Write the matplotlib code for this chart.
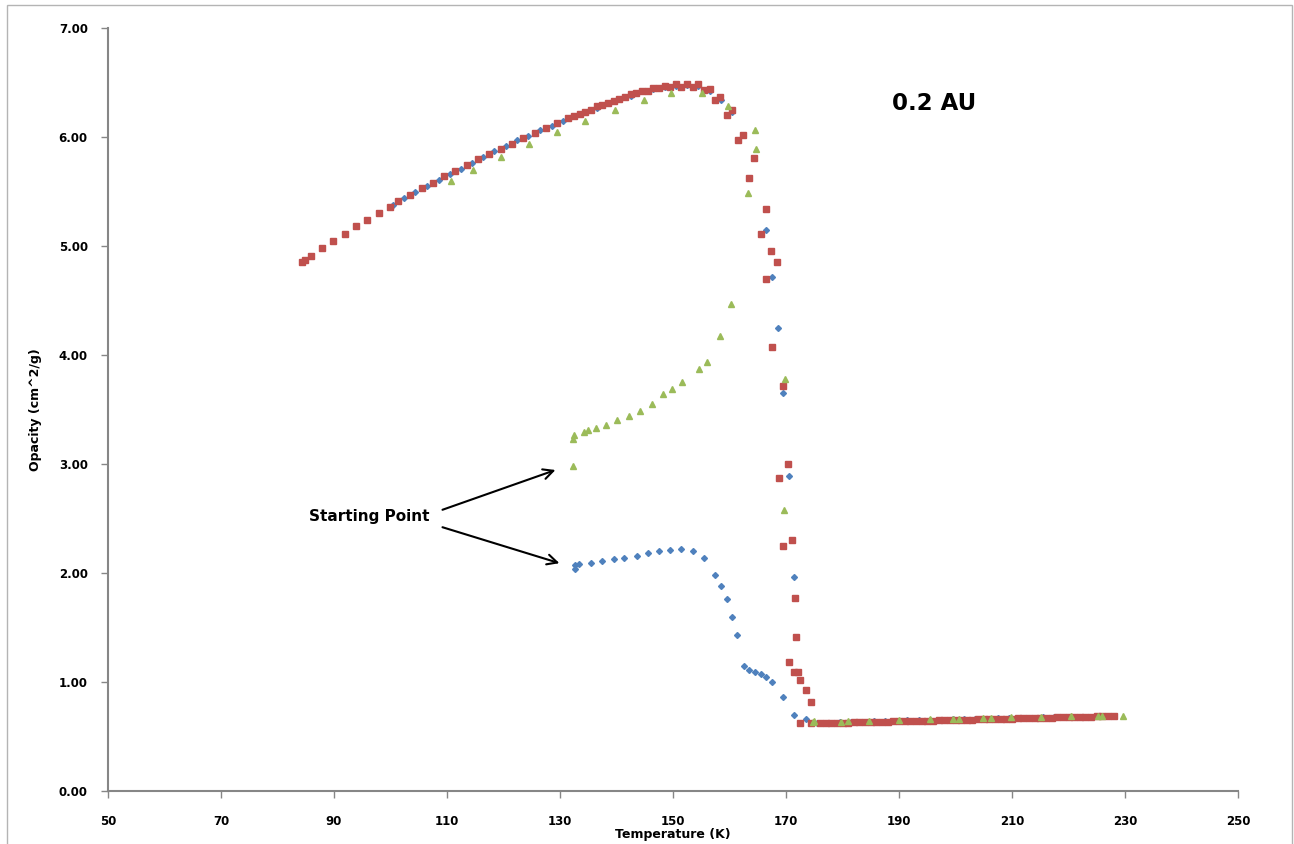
import numpy as np
import matplotlib
matplotlib.use('Agg')
import matplotlib.pyplot as plt
from matplotlib.patches import Rectangle

# Excel-style colours
BLUE = '#4F81BD'
RED = '#C0504D'
GREEN = '#9BBB59'

# ---- data ----
blueT = [100.4, 102.4, 104.4, 106.5, 108.5, 110.5, 112.4, 114.4, 116.4, 118.4,
         120.4, 122.4, 124.4, 126.5, 128.5, 130.5,
         132.5, 134.5, 136.5, 138.5, 140.5, 142.5, 144.5, 146.5, 148.5, 150.5,
         152.5, 154.5, 156.5, 158.5, 160.4,
         166.5, 167.5, 168.5, 169.5, 170.5, 171.5,
         132.7, 132.7, 133.4, 135.4, 137.5, 139.5, 141.4, 143.6, 145.5, 147.5,
         149.5, 151.5, 153.5, 155.5, 157.5, 158.5, 159.5, 160.5, 161.4, 162.5,
         163.5, 164.5, 165.5, 166.5, 167.5, 169.5, 171.5, 173.5,
         175.5, 177.5, 179.5, 181.5, 183.5, 185.5, 187.5, 189.5, 191.5, 193.5,
         195.5, 197.5, 199.5, 201.5, 203.5, 205.5, 207.5, 209.5, 211.5, 213.5,
         215.5, 217.5, 219.5, 221.5, 223.5, 225.5, 227.5]
blueK = [5.38, 5.44, 5.50, 5.55, 5.61, 5.66, 5.71, 5.76, 5.82, 5.87,
         5.92, 5.97, 6.01, 6.06, 6.10, 6.15,
         6.19, 6.23, 6.27, 6.31, 6.35, 6.38, 6.42, 6.44, 6.46, 6.47,
         6.48, 6.47, 6.42, 6.34, 6.23,
         5.15, 4.72, 4.25, 3.65, 2.89, 1.96,
         2.07, 2.04, 2.08, 2.09, 2.11, 2.13, 2.14, 2.16, 2.18, 2.20,
         2.21, 2.22, 2.20, 2.14, 1.98, 1.88, 1.76, 1.60, 1.43, 1.15,
         1.11, 1.09, 1.07, 1.05, 1.00, 0.86, 0.70, 0.66,
         0.62, 0.62, 0.63, 0.63, 0.63, 0.64, 0.64, 0.64, 0.65, 0.65,
         0.65, 0.65, 0.66, 0.66, 0.66, 0.66, 0.67, 0.67, 0.67, 0.67,
         0.68, 0.68, 0.68, 0.68, 0.68, 0.69, 0.69]

redT = [84.4, 84.9, 85.9, 87.9, 89.9, 91.9, 93.9, 95.9, 97.9, 99.9,
        101.4, 103.4, 105.5, 107.5, 109.5, 111.5, 113.5, 115.4, 117.4, 119.5,
        121.5, 123.4, 125.5, 127.5, 129.5, 131.5,
        132.5, 133.5, 134.5, 135.5, 136.5, 137.5, 138.5, 139.5, 140.5, 141.5,
        142.5, 143.5, 144.5, 145.5, 146.5, 147.5, 148.5, 149.5, 150.5, 151.5,
        152.5, 153.5, 154.5, 155.5, 156.5,
        157.5, 158.4, 159.5, 160.4, 161.5, 162.4, 163.5, 164.4, 165.5, 166.5,
        166.5, 167.4, 167.5, 168.4, 168.8, 169.4, 169.5, 170.4, 170.5, 171.1,
        171.6, 171.5, 171.8, 172.1, 172.5, 172.5, 173.5, 174.5, 174.4,
        176, 177, 178, 179, 180, 181, 182, 183, 184, 185,
        186, 187, 188, 189, 190, 191, 192, 193, 194, 195,
        196, 197, 198, 199, 200, 201, 202, 203, 204, 205,
        206, 207, 208, 209, 210, 211, 212, 213, 214, 215,
        216, 217, 218, 219, 220, 221, 222, 223, 224, 225,
        226, 227, 228]
redK = [4.85, 4.87, 4.91, 4.98, 5.05, 5.11, 5.18, 5.24, 5.30, 5.36,
        5.41, 5.47, 5.53, 5.58, 5.64, 5.69, 5.74, 5.80, 5.84, 5.89,
        5.94, 5.99, 6.04, 6.08, 6.13, 6.17,
        6.19, 6.21, 6.23, 6.25, 6.28, 6.29, 6.31, 6.33, 6.35, 6.37,
        6.39, 6.40, 6.42, 6.42, 6.45, 6.45, 6.47, 6.46, 6.49, 6.46,
        6.49, 6.46, 6.49, 6.43, 6.44,
        6.34, 6.37, 6.20, 6.25, 5.97, 6.02, 5.62, 5.81, 5.11, 5.34,
        4.70, 4.95, 4.07, 4.85, 2.87, 3.72, 2.25, 3.00, 1.18, 2.30,
        1.77, 1.09, 1.41, 1.09, 1.02, 0.62, 0.93, 0.82, 0.62,
        0.62, 0.62, 0.62, 0.62, 0.62, 0.62, 0.63, 0.63, 0.63, 0.63,
        0.63, 0.63, 0.63, 0.64, 0.64, 0.64, 0.64, 0.64, 0.64, 0.64,
        0.64, 0.65, 0.65, 0.65, 0.65, 0.65, 0.65, 0.65, 0.66, 0.66,
        0.66, 0.66, 0.66, 0.66, 0.66, 0.67, 0.67, 0.67, 0.67, 0.67,
        0.67, 0.67, 0.68, 0.68, 0.68, 0.68, 0.68, 0.68, 0.68, 0.69,
        0.69, 0.69, 0.69]

greenT = [110.7, 114.6, 119.6, 124.5, 129.5, 134.5, 139.8, 144.8, 149.6, 155.2,
          159.8, 164.6, 164.7, 163.2, 160.3, 158.4, 156.0, 154.6, 151.6, 149.8,
          148.3, 146.2, 144.1, 142.2, 140.1, 138.2, 136.3, 134.9, 134.2, 132.5,
          132.3, 132.3, 169.8, 169.6,
          174.7, 175.0, 179.8, 180.9, 184.7, 190.0, 195.4, 199.6, 200.7, 204.9,
          206.2, 209.8, 215.1, 220.4, 225.3, 226.0, 229.6]
greenK = [5.60, 5.70, 5.82, 5.94, 6.05, 6.15, 6.25, 6.34, 6.40, 6.40,
          6.28, 6.06, 5.89, 5.49, 4.47, 4.17, 3.94, 3.87, 3.75, 3.69,
          3.64, 3.55, 3.49, 3.44, 3.40, 3.36, 3.33, 3.31, 3.29, 3.27,
          3.23, 2.98, 3.78, 2.58,
          0.63, 0.64, 0.63, 0.64, 0.64, 0.65, 0.66, 0.66, 0.66, 0.67,
          0.67, 0.68, 0.68, 0.69, 0.69, 0.69, 0.69]

xTicks = [50, 70, 90, 110, 130, 150, 170, 190, 210, 230, 250]
yTicks = [0, 1, 2, 3, 4, 5, 6, 7]


def main():
    plt.rcParams['font.family'] = ['DejaVu Sans']

    f = plt.figure(figsize=(12.94, 8.44), dpi=100)
    a = f.add_axes([108 / 1294, 1 - 791 / 844, 1130 / 1294, 763 / 844])

    # chart area border like excel
    f.patches.append(Rectangle((7 / 1294, -0.05), 1285 / 1294, 1 - 5 / 844 + 0.05,
                               transform=f.transFigure, fill=False,
                               edgecolor='#b4b4b4', linewidth=1.0))

    a.plot(blueT, blueK, linestyle='none', marker='D', markersize=3.0,
           color=BLUE, markeredgecolor=BLUE)
    a.plot(redT, redK, linestyle='none', marker='s', markersize=4.0,
           color=RED, markeredgecolor=RED)
    a.plot(greenT, greenK, linestyle='none', marker='^', markersize=4.2,
           color=GREEN, markeredgecolor=GREEN)

    a.set_xlim(50, 250)
    a.set_ylim(0, 7)
    a.set_xticks(xTicks)
    a.set_xticklabels([str(t) for t in xTicks], fontweight='bold')
    a.set_yticks(yTicks)
    a.set_yticklabels(['%.2f' % t for t in yTicks], fontweight='bold')

    for s in ['top', 'right']:
        a.spines[s].set_visible(False)
    for s in ['left', 'bottom']:
        a.spines[s].set_color('#868686')
        a.spines[s].set_linewidth(1.5)
    a.tick_params(axis='both', direction='out', length=5, width=1,
                  color='#868686', labelsize=8.5)
    a.tick_params(axis='x', pad=12)
    a.tick_params(axis='y', pad=9.5)

    a.set_xlabel('Temperature (K)', fontsize=9, fontweight='bold', labelpad=0)
    a.set_ylabel('Opacity (cm^2/g)', fontsize=9, fontweight='bold', labelpad=12)

    a.text(188.8, 6.31, '0.2 AU', fontsize=16.5, fontweight='bold',
           ha='left', va='center')
    a.text(85.6, 2.52, 'Starting Point', fontsize=11, fontweight='bold',
           ha='left', va='center')
    arrow = dict(arrowstyle='->', color='black', lw=1.5, mutation_scale=18,
                 shrinkA=0, shrinkB=0)
    a.annotate('', xy=(129.2, 2.945), xytext=(109.2, 2.58), arrowprops=arrow)
    a.annotate('', xy=(129.9, 2.09), xytext=(109.2, 2.42), arrowprops=arrow)

    f.savefig('out.png', dpi=100)


if __name__ == "__main__":
    main()
